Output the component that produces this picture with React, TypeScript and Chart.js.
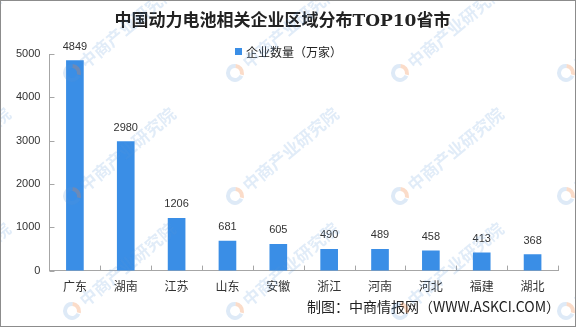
import React, { useEffect, useRef } from "react";
import { Chart, registerables } from "chart.js";

Chart.register(...registerables);

const TITLE = "中国动力电池相关企业区域分布TOP10省市";
const SERIES_NAME = "企业数量（万家）";
const SOURCE = "制图：中商情报网（WWW.ASKCI.COM）";
const WATERMARK = "中商产业研究院";

const categories = ["广东", "湖南", "江苏", "山东", "安徽", "浙江", "河南", "河北", "福建", "湖北"];
const values = [4849, 2980, 1206, 681, 605, 490, 489, 458, 413, 368];
const yTicks = [0, 1000, 2000, 3000, 4000, 5000];

const BAR = "#3a8ee6";
const AXIS = "#a6a6a6";
const TEXT = "#333333";
const CJK = "'Noto Sans CJK SC', sans-serif";
const LATIN = "'Liberation Sans', Arial, sans-serif";

const decorations = {
  id: "decorations",
  afterDraw(chart: any) {
    const ctx = chart.ctx as CanvasRenderingContext2D;
    const xs = chart.scales.x;
    const ys = chart.scales.y;
    const W = chart.width;
    const H = chart.height;
    ctx.save();

    // inner tick marks on y axis
    ctx.strokeStyle = AXIS;
    ctx.lineWidth = 1;
    ctx.beginPath();
    yTicks.forEach((v) => {
      const y = Math.round(ys.getPixelForValue(v)) + 0.5;
      ctx.moveTo(xs.left, y);
      ctx.lineTo(xs.left + 5, y);
    });
    // inner tick marks on x axis, at category boundaries
    const n = categories.length;
    const half = (xs.getPixelForValue(1) - xs.getPixelForValue(0)) / 2;
    for (let i = 0; i <= n; i++) {
      const x = Math.round(i < n ? xs.getPixelForValue(i) - half : xs.getPixelForValue(n - 1) + half) + 0.5;
      ctx.moveTo(x, ys.bottom);
      ctx.lineTo(x, ys.bottom - 5);
    }
    ctx.stroke();

    // value labels
    const meta = chart.getDatasetMeta(0);
    ctx.fillStyle = TEXT;
    ctx.font = `11px ${LATIN}`;
    ctx.textAlign = "center";
    ctx.textBaseline = "middle";
    meta.data.forEach((el: any, i: number) => {
      ctx.fillText(String(values[i]), el.x, el.y - 14);
    });

    // legend
    ctx.fillStyle = BAR;
    ctx.fillRect(235, 48, 7, 7);
    ctx.fillStyle = "#222";
    ctx.font = `12px ${CJK}`;
    ctx.textAlign = "left";
    ctx.fillText(SERIES_NAME, 246, 52);

    // source
    ctx.font = `14px ${CJK}`;
    ctx.textAlign = "right";
    ctx.fillText(SOURCE, 560, 307);

    // watermark
    const xsW = [-93, 72, 235, 400, 566];
    const ysW = [73, 196, 311];
    xsW.forEach((wx) => {
      ysW.forEach((wy) => {
        ctx.save();
        ctx.translate(wx, wy);
        ctx.rotate((-40 * Math.PI) / 180);
        ctx.lineWidth = 4;
        ctx.strokeStyle = "rgba(90,150,215,0.2)";
        ctx.beginPath();
        ctx.arc(0, 0, 7, Math.PI * 0.35, Math.PI * 1.75);
        ctx.stroke();
        ctx.strokeStyle = "rgba(240,130,60,0.28)";
        ctx.beginPath();
        ctx.arc(0, 0, 7, Math.PI * 1.75, Math.PI * 2.3);
        ctx.stroke();
        ctx.fillStyle = "rgba(90,150,215,0.18)";
        ctx.font = `bold 17px ${CJK}`;
        ctx.textAlign = "left";
        ctx.textBaseline = "middle";
        ctx.fillText(WATERMARK, 13, 0);
        ctx.restore();
      });
    });

    // outer border
    ctx.strokeStyle = "#8c8c8c";
    ctx.lineWidth = 1;
    ctx.strokeRect(0.5, 0.5, W - 1, H - 1);
    ctx.restore();
  },
};

export default function App() {
  const ref = useRef<HTMLCanvasElement | null>(null);
  useEffect(() => {
    if (!ref.current) return;
    const chart = new Chart(ref.current, {
      type: "bar",
      data: {
        labels: categories,
        datasets: [
          {
            label: SERIES_NAME,
            data: values,
            backgroundColor: BAR,
            barThickness: 17,
          },
        ],
      },
      options: {
        responsive: false,
        animation: false,
        layout: { padding: { left: 7, right: 18, top: 0, bottom: 24 } },
        plugins: {
          legend: { display: false },
          tooltip: { enabled: false },
          title: {
            display: true,
            text: TITLE,
            color: "#222",
            font: { size: 17, weight: "bold", family: `'DejaVu Serif', 'Noto Sans CJK SC', serif` },
            padding: { top: 11, bottom: 22.6 },
          },
        },
        scales: {
          x: {
            grid: { display: false, drawTicks: false },
            border: { display: true, color: AXIS },
            ticks: { color: TEXT, font: { size: 12, family: CJK }, padding: 9, maxRotation: 0 },
          },
          y: {
            min: 0,
            max: 5000,
            grid: { display: false, drawTicks: false },
            border: { display: true, color: AXIS },
            ticks: {
              stepSize: 1000,
              color: TEXT,
              font: { size: 11, family: LATIN },
              padding: 9,
              callback: (v: any) => String(v),
            },
          },
        },
      },
      plugins: [decorations],
    });
    return () => chart.destroy();
  }, []);
  return (
    <div style={{ position: "absolute", left: 0, top: 0, width: 576, height: 327, background: "#fff" }}>
      <canvas ref={ref} width={576} height={327} style={{ display: "block" }} />
    </div>
  );
}
